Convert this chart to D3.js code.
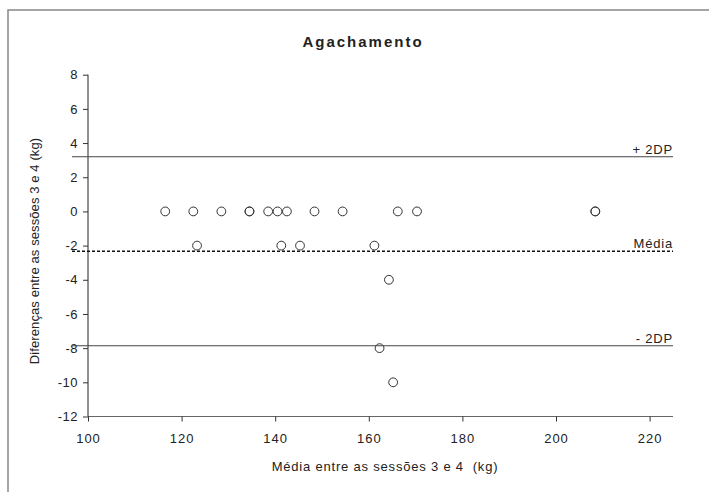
<!DOCTYPE html>
<html>
<head>
<meta charset="utf-8">
<script src="https://cdn.jsdelivr.net/npm/d3@7"></script>
<style>
  body { margin: 0; background: #fff; }
  svg text { font-family: "Liberation Sans", Arial, sans-serif; fill: #222; }
</style>
</head>
<body>
<svg id="chart" width="709" height="492"></svg>
<script>
// Bland-Altman: media das sessoes 3 e 4 vs diferenca
const meanValues = [116.5, 122.5, 128.5, 134.5, 134.5, 138.5, 140.5, 142.5, 148.4, 154.4, 166.2, 170.3, 208.4, 208.4,
                    123.3, 141.3, 145.3, 161.2, 164.3, 162.3, 165.2];
const diffValues = [0, 0, 0, 0, 0, 0, 0, 0, 0, 0, 0, 0, 0, 0,
                    -2, -2, -2, -2, -4, -8, -10];
const xTicks = [100, 120, 140, 160, 180, 200, 220];
const yTicks = [8, 6, 4, 2, 0, -2, -4, -6, -8, -10, -12];
const refNames = ["+ 2DP", "Média", "- 2DP"];
const refValues = [3.2, -2.33, -7.86];

const svg = d3.select('#chart');

// frame
svg.append('path')
    .attr('d', 'M8,492 L8,10 L709,10')
    .attr('fill', 'none')
    .attr('stroke', '#888')
    .attr('stroke-width', 1.5);

const plotLeft = 88, plotRight = 673, plotTop = 74.7, plotBottom = 416.5;

const x = d3.scaleLinear().domain([100, 225]).range([plotLeft, plotRight]);
const y = d3.scaleLinear().domain([-12, 8]).range([plotBottom, plotTop]);

// x axis
const xAxis = svg.append('g')
    .attr('transform', `translate(0,${plotBottom})`)
    .call(d3.axisBottom(x).tickValues(xTicks).tickSize(5).tickPadding(12));
xAxis.select('.domain').attr('stroke', '#666').attr('d', `M${plotLeft},0H${plotRight}`);
xAxis.selectAll('.tick line').attr('stroke', '#333');
xAxis.selectAll('.tick text')
    .attr('font-size', '13px')
    .attr('letter-spacing', '1px')
    .attr('fill', '#222');

// y axis (hyphen minus, like the original)
const yAxis = svg.append('g')
    .attr('transform', `translate(${plotLeft},0)`)
    .call(d3.axisLeft(y).tickValues(yTicks).tickSize(5).tickPadding(5).tickFormat(d => String(d)));
yAxis.select('.domain').attr('stroke', '#222').attr('d', `M0,${plotTop}V${plotBottom}`);
yAxis.selectAll('.tick line').attr('stroke', '#333');
yAxis.selectAll('.tick text')
    .attr('font-size', '13px')
    .attr('letter-spacing', '0.5px')
    .attr('fill', '#222');

// reference lines
refValues.forEach((v, i) => {
    svg.append('line')
        .attr('x1', 72)
        .attr('x2', plotRight)
        .attr('y1', y(v))
        .attr('y2', y(v))
        .attr('stroke', i === 1 ? '#111' : '#444')
        .attr('stroke-width', i === 1 ? 1.6 : 1.1)
        .attr('stroke-dasharray', i === 1 ? '3,2' : null);
    svg.append('text')
        .attr('x', plotRight)
        .attr('y', y(v) - 3)
        .attr('text-anchor', 'end')
        .attr('font-size', '13px')
        .attr('letter-spacing', '0.8px')
        .text(refNames[i]);
});

// points
svg.append('g')
    .selectAll('circle')
    .data(meanValues)
    .join('circle')
    .attr('cx', d => x(d))
    .attr('cy', (d, i) => y(diffValues[i]))
    .attr('r', 4.4)
    .attr('fill', 'none')
    .attr('stroke', '#333')
    .attr('stroke-width', 1);

// title
svg.append('text')
    .attr('x', 363)
    .attr('y', 47)
    .attr('text-anchor', 'middle')
    .attr('font-size', '15px')
    .attr('font-weight', 'bold')
    .attr('letter-spacing', '2px')
    .text('Agachamento');

// axis titles
svg.append('text')
    .attr('x', 385)
    .attr('y', 471)
    .attr('text-anchor', 'middle')
    .attr('font-size', '13px')
    .attr('letter-spacing', '0.8px')
    .attr('xml:space', 'preserve')
    .text('Média entre as sessões 3 e 4  (kg)');

svg.append('text')
    .attr('transform', 'translate(39,251) rotate(-90)')
    .attr('text-anchor', 'middle')
    .attr('font-size', '13px')
    .attr('letter-spacing', '0.1px')
    .text('Diferenças entre as sessões 3 e 4 (kg)');
</script>
</body>
</html>
